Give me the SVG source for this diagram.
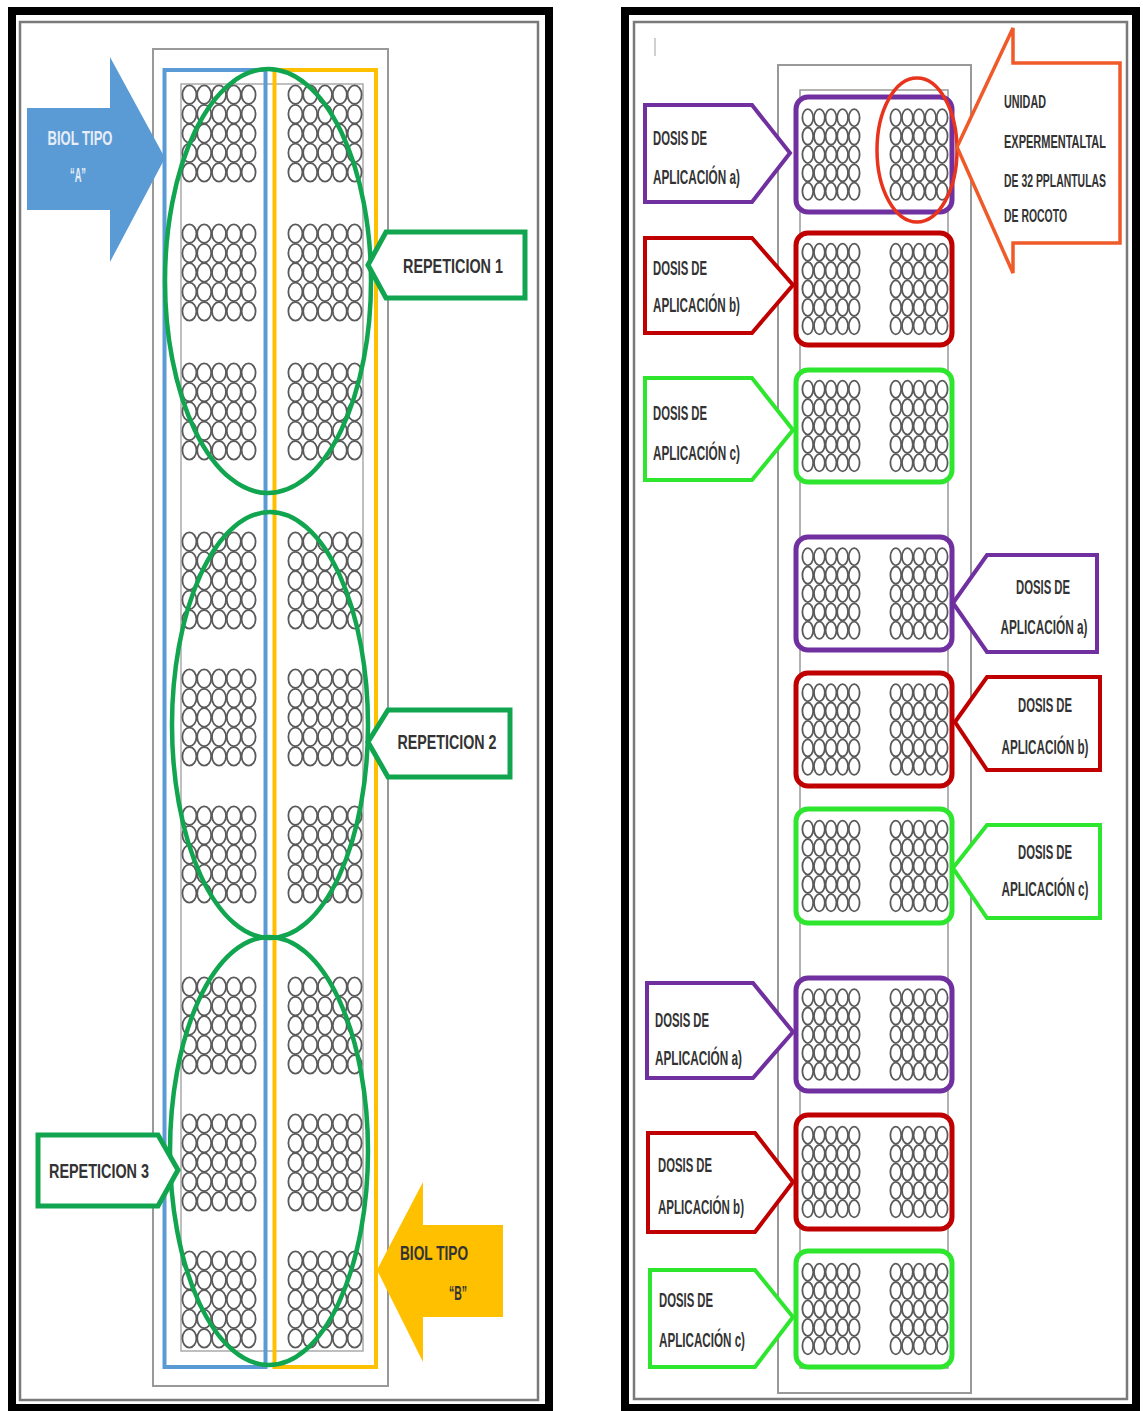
<svg xmlns="http://www.w3.org/2000/svg" width="1143" height="1411" viewBox="0 0 1143 1411">
<style>
.frame{fill:none;stroke:#000;stroke-width:8}
.framein{fill:none;stroke:#7a7a7a;stroke-width:2.5}
.field{fill:none;stroke:#999;stroke-width:2}
.thin{fill:none;stroke:#aaa;stroke-width:1.5}
.pl{fill:#fff;stroke:#5a5a5a;stroke-width:1.8}
.t{font-family:"Liberation Sans Narrow","Liberation Sans",Arial,sans-serif;font-weight:bold;fill:#333;dominant-baseline:central}
.rep{fill:#fff;stroke:#12a550;stroke-width:5}
.ell{fill:none;stroke:#12a550;stroke-width:4.5}
.pu{stroke:#7030a0}
.rd{stroke:#c00000}
.gr{stroke:#2ee62e}
.box{fill:#fff;stroke-width:5}
.lab{fill:#fff;stroke-width:4}
</style>
<defs>
<g id="bl">
<ellipse class="pl" cx="7.4" cy="9.7" rx="7" ry="9.3"/><ellipse class="pl" cx="22.2" cy="9.7" rx="7" ry="9.3"/><ellipse class="pl" cx="37" cy="9.7" rx="7" ry="9.3"/><ellipse class="pl" cx="51.8" cy="9.7" rx="7" ry="9.3"/><ellipse class="pl" cx="66.6" cy="9.7" rx="7" ry="9.3"/>
<ellipse class="pl" cx="7.4" cy="29.1" rx="7" ry="9.3"/><ellipse class="pl" cx="22.2" cy="29.1" rx="7" ry="9.3"/><ellipse class="pl" cx="37" cy="29.1" rx="7" ry="9.3"/><ellipse class="pl" cx="51.8" cy="29.1" rx="7" ry="9.3"/><ellipse class="pl" cx="66.6" cy="29.1" rx="7" ry="9.3"/>
<ellipse class="pl" cx="7.4" cy="48.5" rx="7" ry="9.3"/><ellipse class="pl" cx="22.2" cy="48.5" rx="7" ry="9.3"/><ellipse class="pl" cx="37" cy="48.5" rx="7" ry="9.3"/><ellipse class="pl" cx="51.8" cy="48.5" rx="7" ry="9.3"/><ellipse class="pl" cx="66.6" cy="48.5" rx="7" ry="9.3"/>
<ellipse class="pl" cx="7.4" cy="67.9" rx="7" ry="9.3"/><ellipse class="pl" cx="22.2" cy="67.9" rx="7" ry="9.3"/><ellipse class="pl" cx="37" cy="67.9" rx="7" ry="9.3"/><ellipse class="pl" cx="51.8" cy="67.9" rx="7" ry="9.3"/><ellipse class="pl" cx="66.6" cy="67.9" rx="7" ry="9.3"/>
<ellipse class="pl" cx="7.4" cy="87.3" rx="7" ry="9.3"/><ellipse class="pl" cx="22.2" cy="87.3" rx="7" ry="9.3"/><ellipse class="pl" cx="37" cy="87.3" rx="7" ry="9.3"/><ellipse class="pl" cx="51.8" cy="87.3" rx="7" ry="9.3"/><ellipse class="pl" cx="66.6" cy="87.3" rx="7" ry="9.3"/>
</g>
<g id="br">
<ellipse class="pl" cx="5.8" cy="9.2" rx="5.4" ry="8.6"/><ellipse class="pl" cx="17.4" cy="9.2" rx="5.4" ry="8.6"/><ellipse class="pl" cx="29" cy="9.2" rx="5.4" ry="8.6"/><ellipse class="pl" cx="40.6" cy="9.2" rx="5.4" ry="8.6"/><ellipse class="pl" cx="52.2" cy="9.2" rx="5.4" ry="8.6"/>
<ellipse class="pl" cx="5.8" cy="27.6" rx="5.4" ry="8.6"/><ellipse class="pl" cx="17.4" cy="27.6" rx="5.4" ry="8.6"/><ellipse class="pl" cx="29" cy="27.6" rx="5.4" ry="8.6"/><ellipse class="pl" cx="40.6" cy="27.6" rx="5.4" ry="8.6"/><ellipse class="pl" cx="52.2" cy="27.6" rx="5.4" ry="8.6"/>
<ellipse class="pl" cx="5.8" cy="46" rx="5.4" ry="8.6"/><ellipse class="pl" cx="17.4" cy="46" rx="5.4" ry="8.6"/><ellipse class="pl" cx="29" cy="46" rx="5.4" ry="8.6"/><ellipse class="pl" cx="40.6" cy="46" rx="5.4" ry="8.6"/><ellipse class="pl" cx="52.2" cy="46" rx="5.4" ry="8.6"/>
<ellipse class="pl" cx="5.8" cy="64.4" rx="5.4" ry="8.6"/><ellipse class="pl" cx="17.4" cy="64.4" rx="5.4" ry="8.6"/><ellipse class="pl" cx="29" cy="64.4" rx="5.4" ry="8.6"/><ellipse class="pl" cx="40.6" cy="64.4" rx="5.4" ry="8.6"/><ellipse class="pl" cx="52.2" cy="64.4" rx="5.4" ry="8.6"/>
<ellipse class="pl" cx="5.8" cy="82.8" rx="5.4" ry="8.6"/><ellipse class="pl" cx="17.4" cy="82.8" rx="5.4" ry="8.6"/><ellipse class="pl" cx="29" cy="82.8" rx="5.4" ry="8.6"/><ellipse class="pl" cx="40.6" cy="82.8" rx="5.4" ry="8.6"/><ellipse class="pl" cx="52.2" cy="82.8" rx="5.4" ry="8.6"/>
</g>
<g id="pair"><use href="#br" x="0" y="0"/><use href="#br" x="88" y="0"/></g>
</defs>
<rect width="1143" height="1411" fill="#fff"/>

<!-- LEFT PANEL -->
<g id="left-panel">
<rect class="frame" x="12" y="11" width="537" height="1397"/>
<rect class="framein" x="20" y="22" width="518" height="1378"/>
<rect class="field" x="153" y="49" width="235" height="1337"/>
<rect class="thin" x="181" y="84" width="182" height="1267"/>
<rect id="biol-a-strip" x="164.5" y="70" width="101" height="1297" fill="none" stroke="#5b9bd5" stroke-width="4"/>
<rect id="biol-b-strip" x="274.5" y="70" width="101.5" height="1297" fill="none" stroke="#ffc000" stroke-width="4"/>
<g id="left-plants">
<use href="#bl" x="182" y="85"/><use href="#bl" x="288" y="85"/>
<use href="#bl" x="182" y="224"/><use href="#bl" x="288" y="224"/>
<use href="#bl" x="182" y="363"/><use href="#bl" x="288" y="363"/>
<use href="#bl" x="182" y="532"/><use href="#bl" x="288" y="532"/>
<use href="#bl" x="182" y="669"/><use href="#bl" x="288" y="669"/>
<use href="#bl" x="182" y="806"/><use href="#bl" x="288" y="806"/>
<use href="#bl" x="182" y="977"/><use href="#bl" x="288" y="977"/>
<use href="#bl" x="182" y="1114"/><use href="#bl" x="288" y="1114"/>
<use href="#bl" x="182" y="1251"/><use href="#bl" x="288" y="1251"/>
</g>
<g id="rep-ellipses">
<ellipse class="ell" cx="268" cy="281" rx="103" ry="212"/>
<ellipse class="ell" cx="270" cy="725" rx="98" ry="213"/>
<ellipse class="ell" cx="269" cy="1151" rx="99" ry="214"/>
</g>
</g>

<g id="node-biol-a">
<polygon points="27,108 110,108 110,57 165,158 110,262 110,210 27,210" fill="#5b9bd5"/>
<text class="t" x="80" y="137" text-anchor="middle" font-size="21" textLength="65" lengthAdjust="spacingAndGlyphs" style="fill:#e6edf7">BIOL TIPO</text>
<text class="t" x="78" y="174" text-anchor="middle" font-size="21" textLength="16" lengthAdjust="spacingAndGlyphs" style="fill:#e6edf7">“A”</text>
</g>
<g id="node-biol-b">
<polygon points="377,1270 423,1182 423,1225 503,1225 503,1317 423,1317 423,1362" fill="#ffc000"/>
<text class="t" x="434" y="1252" text-anchor="middle" font-size="21" textLength="68" lengthAdjust="spacingAndGlyphs">BIOL TIPO</text>
<text class="t" x="458" y="1292" text-anchor="middle" font-size="21" textLength="18" lengthAdjust="spacingAndGlyphs">“B”</text>
</g>
<g id="node-rep1">
<polygon class="rep" points="368,265 386,232 525,232 525,298 386,298"/>
<text class="t" x="453" y="265" text-anchor="middle" font-size="21" textLength="100" lengthAdjust="spacingAndGlyphs">REPETICION 1</text>
</g>
<g id="node-rep2">
<polygon class="rep" points="368,742 388,710 510,710 510,777 388,777"/>
<text class="t" x="447" y="741" text-anchor="middle" font-size="21" textLength="99" lengthAdjust="spacingAndGlyphs">REPETICION 2</text>
</g>
<g id="node-rep3">
<polygon class="rep" points="38,1135 158,1135 178,1170 158,1206 38,1206"/>
<text class="t" x="99" y="1170" text-anchor="middle" font-size="21" textLength="100" lengthAdjust="spacingAndGlyphs">REPETICION 3</text>
</g>

<!-- RIGHT PANEL -->
<g id="right-panel">
<rect class="frame" x="625" y="11" width="511" height="1397"/>
<rect class="framein" x="634" y="22" width="493" height="1377"/>
<line x1="655" y1="38" x2="655" y2="56" stroke="#d0d0d0" stroke-width="2"/>
<rect class="field" x="778" y="65" width="193" height="1328"/>
<rect class="thin" x="800" y="90" width="148" height="1278" style="stroke:#999"/>
</g>

<g id="node-box1"><rect class="box pu" x="796" y="97" width="156" height="115" rx="12"/><use href="#pair" x="802" y="108.5"/></g>
<g id="node-box2"><rect class="box rd" x="796" y="233" width="156" height="112" rx="12"/><use href="#pair" x="802" y="243"/></g>
<g id="node-box3"><rect class="box gr" x="796" y="370" width="156" height="112" rx="12"/><use href="#pair" x="802" y="380"/></g>
<g id="node-box4"><rect class="box pu" x="796" y="537" width="156" height="113" rx="12"/><use href="#pair" x="802" y="547.5"/></g>
<g id="node-box5"><rect class="box rd" x="796" y="673" width="156" height="113" rx="12"/><use href="#pair" x="802" y="683.5"/></g>
<g id="node-box6"><rect class="box gr" x="796" y="809" width="156" height="114" rx="12"/><use href="#pair" x="802" y="820"/></g>
<g id="node-box7"><rect class="box pu" x="796" y="978" width="156" height="113" rx="12"/><use href="#pair" x="802" y="988.5"/></g>
<g id="node-box8"><rect class="box rd" x="796" y="1115" width="156" height="114" rx="12"/><use href="#pair" x="802" y="1126"/></g>
<g id="node-box9"><rect class="box gr" x="796" y="1251" width="156" height="116" rx="12"/><use href="#pair" x="802" y="1263"/></g>

<g id="node-unidad">
<ellipse cx="917" cy="150" rx="40" ry="72" fill="none" stroke="#e8341c" stroke-width="3.5"/>
<polygon points="957,147 1013,28 1013,63 1120,63 1120,243 1013,243 1013,273" fill="#fff" stroke="#f05a28" stroke-width="3.5"/>
<text class="t" x="1004" y="101" font-size="19" textLength="42" lengthAdjust="spacingAndGlyphs">UNIDAD</text>
<text class="t" x="1004" y="141" font-size="19" textLength="102" lengthAdjust="spacingAndGlyphs">EXPERMENTALTAL</text>
<text class="t" x="1004" y="180" font-size="19" textLength="102" lengthAdjust="spacingAndGlyphs">DE 32 PPLANTULAS</text>
<text class="t" x="1004" y="215" font-size="19" textLength="63" lengthAdjust="spacingAndGlyphs">DE ROCOTO</text>
</g>

<g id="node-dosis1">
<polygon class="lab pu" points="645,105 752,105 790,153 752,202 645,202"/>
<text class="t" x="653" y="138" font-size="20" textLength="54" lengthAdjust="spacingAndGlyphs">DOSIS DE</text>
<text class="t" x="653" y="177" font-size="20" textLength="87" lengthAdjust="spacingAndGlyphs">APLICACIÓN a)</text>
</g>
<g id="node-dosis2">
<polygon class="lab rd" points="645,238 752,238 793,285 752,333 645,333"/>
<text class="t" x="653" y="268" font-size="20" textLength="54" lengthAdjust="spacingAndGlyphs">DOSIS DE</text>
<text class="t" x="653" y="305" font-size="20" textLength="87" lengthAdjust="spacingAndGlyphs">APLICACIÓN b)</text>
</g>
<g id="node-dosis3">
<polygon class="lab gr" points="645,378 752,378 793,430 752,480 645,480"/>
<text class="t" x="653" y="413" font-size="20" textLength="54" lengthAdjust="spacingAndGlyphs">DOSIS DE</text>
<text class="t" x="653" y="453" font-size="20" textLength="87" lengthAdjust="spacingAndGlyphs">APLICACIÓN c)</text>
</g>
<g id="node-dosis4">
<polygon class="lab pu" points="953,603 987,555 1097,555 1097,652 987,652"/>
<text class="t" x="1043" y="587" text-anchor="middle" font-size="20" textLength="54" lengthAdjust="spacingAndGlyphs">DOSIS DE</text>
<text class="t" x="1044" y="627" text-anchor="middle" font-size="20" textLength="87" lengthAdjust="spacingAndGlyphs">APLICACIÓN a)</text>
</g>
<g id="node-dosis5">
<polygon class="lab rd" points="955,722 987,677 1100,677 1100,770 987,770"/>
<text class="t" x="1045" y="705" text-anchor="middle" font-size="20" textLength="54" lengthAdjust="spacingAndGlyphs">DOSIS DE</text>
<text class="t" x="1045" y="747" text-anchor="middle" font-size="20" textLength="87" lengthAdjust="spacingAndGlyphs">APLICACIÓN b)</text>
</g>
<g id="node-dosis6">
<polygon class="lab gr" points="953,868 987,825 1100,825 1100,918 987,918"/>
<text class="t" x="1045" y="852" text-anchor="middle" font-size="20" textLength="54" lengthAdjust="spacingAndGlyphs">DOSIS DE</text>
<text class="t" x="1045" y="889" text-anchor="middle" font-size="20" textLength="87" lengthAdjust="spacingAndGlyphs">APLICACIÓN c)</text>
</g>
<g id="node-dosis7">
<polygon class="lab pu" points="647,983 753,983 793,1032 753,1078 647,1078"/>
<text class="t" x="655" y="1020" font-size="20" textLength="54" lengthAdjust="spacingAndGlyphs">DOSIS DE</text>
<text class="t" x="655" y="1058" font-size="20" textLength="87" lengthAdjust="spacingAndGlyphs">APLICACIÓN a)</text>
</g>
<g id="node-dosis8">
<polygon class="lab rd" points="648,1133 755,1133 793,1182 755,1232 648,1232"/>
<text class="t" x="658" y="1165" font-size="20" textLength="54" lengthAdjust="spacingAndGlyphs">DOSIS DE</text>
<text class="t" x="658" y="1207" font-size="20" textLength="86" lengthAdjust="spacingAndGlyphs">APLICACIÓN b)</text>
</g>
<g id="node-dosis9">
<polygon class="lab gr" points="650,1270 755,1270 793,1317 755,1367 650,1367"/>
<text class="t" x="659" y="1300" font-size="20" textLength="54" lengthAdjust="spacingAndGlyphs">DOSIS DE</text>
<text class="t" x="659" y="1340" font-size="20" textLength="86" lengthAdjust="spacingAndGlyphs">APLICACIÓN c)</text>
</g>
<g id="connectors"></g>
</svg>
